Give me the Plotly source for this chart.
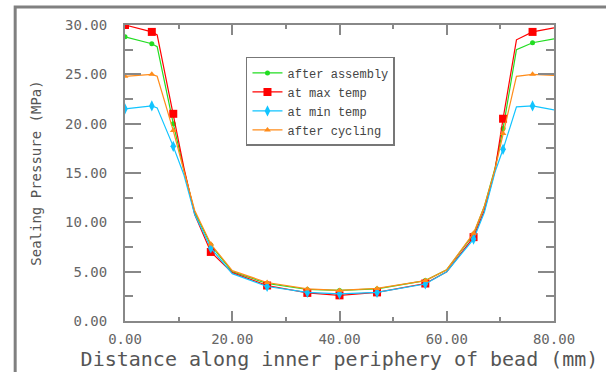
import plotly.graph_objects as go

# Distance along inner periphery of bead (mm)
distance = [0, 5, 6, 9, 11, 13, 16, 20, 26.5, 34, 40, 47, 56, 60, 65, 67, 69, 70.5, 73, 76, 80]
# indices of the measured points that carry a marker
marker_idx = [0, 1, 3, 6, 8, 9, 10, 11, 12, 14, 17, 19]

after_assembly = [28.8, 28.1, 27.8, 20.0, 15.3, 11.0, 7.7, 5.0, 3.8, 3.2, 3.1, 3.25, 4.1, 5.2, 8.8, 11.6, 15.5, 19.5, 27.5, 28.2, 28.6]
at_max_temp = [30.0, 29.3, 29.0, 21.0, 15.5, 10.8, 7.0, 4.9, 3.6, 2.85, 2.6, 2.9, 3.8, 5.0, 8.5, 11.2, 15.3, 20.5, 28.5, 29.3, 29.7]
at_min_temp = [21.5, 21.8, 21.6, 17.7, 14.8, 10.8, 7.4, 4.8, 3.5, 2.9, 2.75, 2.9, 3.75, 5.0, 8.3, 11.0, 15.1, 17.4, 21.7, 21.8, 21.4]
after_cycling = [24.8, 25.0, 24.8, 19.3, 15.2, 11.2, 7.8, 5.1, 3.9, 3.25, 3.1, 3.3, 4.1, 5.2, 8.9, 11.6, 15.4, 19.0, 24.8, 25.0, 24.9]

series_names = ["after assembly", "at max temp", "at min temp", "after cycling"]
series_values = [after_assembly, at_max_temp, at_min_temp, after_cycling]
series_colors = ["#22dd22", "#ff0000", "#11c4ff", "#ff8c1a"]
series_symbols = ["circle", "square", "diamond-tall", "triangle-up"]
series_msize = [5, 8, 8, 6]

x_ticks = [0, 20, 40, 60, 80]
y_ticks = [0, 5, 10, 15, 20, 25, 30]

fig = go.Figure()
for name, vals, col, sym, ms in zip(series_names, series_values, series_colors, series_symbols, series_msize):
    fig.add_trace(go.Scatter(x=distance, y=vals, mode="lines",
                             line=dict(color=col, width=1.2),
                             showlegend=False, hoverinfo="skip", legendgroup=name))
    fig.add_trace(go.Scatter(x=[distance[i] for i in marker_idx], y=[vals[i] for i in marker_idx],
                             mode="markers", marker=dict(color=col, symbol=sym, size=ms),
                             showlegend=False, legendgroup=name, name=name))
    fig.add_trace(go.Scatter(x=[None], y=[None], mode="lines+markers", name=name,
                             line=dict(color=col, width=1.2),
                             marker=dict(color=col, symbol=sym, size=ms),
                             legendgroup=name))

axis_col = "#888888"
tick_font = dict(family="DejaVu Sans Mono", size=14, color="#666666")

fig.update_layout(
    width=606, height=372,
    margin=dict(l=125, r=52, t=25, b=51),
    paper_bgcolor="white", plot_bgcolor="white",
    showlegend=True,
    legend=dict(x=0.282, y=0.892, xanchor="left", yanchor="top",
                bgcolor="white", bordercolor="#777777", borderwidth=1.5,
                font=dict(family="Liberation Mono", size=12, color="#444444"),
                tracegroupgap=0, entrywidth=145, entrywidthmode="pixels"),
    xaxis=dict(range=[0, 80], tickvals=x_ticks, tickformat=".2f",
               ticks="inside", ticklen=10, tickwidth=1.5, tickcolor=axis_col,
               minor=dict(ticks="inside", ticklen=4, dtick=10, tick0=0, tickcolor=axis_col, tickwidth=1.5),
               showline=True, linecolor=axis_col, linewidth=2, mirror="ticks",
               showgrid=False, zeroline=False, tickfont=tick_font, ticklabelstandoff=4,
               title=dict(text="Distance along inner periphery of bead (mm)",
                          font=dict(family="DejaVu Sans Mono", size=20, color="#555555"), standoff=0)),
    yaxis=dict(range=[0, 30], tickvals=y_ticks, tickformat=".2f",
               ticks="inside", ticklen=16, tickwidth=1.5, tickcolor=axis_col,
               minor=dict(ticks="inside", ticklen=8, dtick=2.5, tick0=0, tickcolor=axis_col, tickwidth=1.5),
               showline=True, linecolor=axis_col, linewidth=2, mirror="ticks",
               showgrid=False, zeroline=False, tickfont=tick_font, ticklabelstandoff=13,
               title=dict(text="Sealing Pressure (MPa)",
                          font=dict(family="DejaVu Sans Mono", size=14, color="#555555"), standoff=20)),
    shapes=[dict(type="rect", xref="paper", yref="paper",
                 x0=-0.256, x1=1.3, y0=-0.4, y1=1.061,
                 line=dict(color="#808080", width=3), layer="below")],
)

fig.write_html("out.html", config={"displayModeBar": False},
               post_script="document.body.style.margin='0px';")
